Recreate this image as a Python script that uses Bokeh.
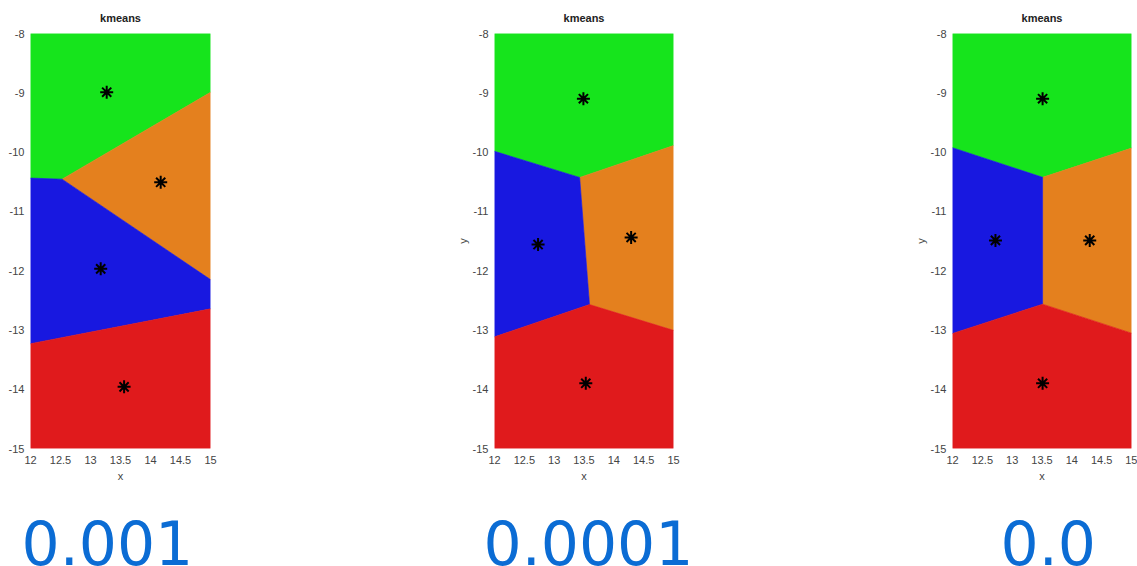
from bokeh.plotting import figure
from bokeh.layouts import row
from bokeh.models import Range1d, FixedTicker, Spacer, Title
from bokeh.embed import file_html
from bokeh.resources import INLINE

# ---- data ----
cluster_colors = ["#16e41c", "#e4801e", "#1818e0", "#e01a1c"]  # green, orange, blue, red
tol_labels = ["0.001", "0.0001", "0.0"]

cx_001 = [13.27, 14.17, 13.17, 13.56]
cy_001 = [-8.99, -10.51, -11.97, -13.96]
cx_0001 = [13.49, 14.29, 12.73, 13.53]
cy_0001 = [-9.10, -11.44, -11.56, -13.90]
cx_0 = [13.51, 14.30, 12.72, 13.51]
cy_0 = [-9.10, -11.49, -11.49, -13.90]

x_ticks = [12, 12.5, 13, 13.5, 14, 14.5, 15]
x_tick_labels = ["12", "12.5", "13", "13.5", "14", "14.5", "15"]
y_ticks = [-15, -14, -13, -12, -11, -10, -9, -8]
y_tick_labels = ["-15", "-14", "-13", "-12", "-11", "-10", "-9", "-8"]
x_lo, x_hi = 12, 15
y_lo, y_hi = -15, -8

FW, FH = 180, 415           # frame size in px
TOP, BOTTOM = 33, 118       # borders


def clip(poly, a, b, c):
    """Keep part of polygon with a*x + b*y <= c."""
    out = []
    n = len(poly)
    for k in range(n):
        p = poly[k]
        q = poly[(k + 1) % n]
        fp = a * p[0] + b * p[1] - c
        fq = a * q[0] + b * q[1] - c
        if fp <= 0:
            out.append(p)
        if (fp < 0 < fq) or (fq < 0 < fp):
            t = fp / (fp - fq)
            out.append((p[0] + t * (q[0] - p[0]), p[1] + t * (q[1] - p[1])))
    return out


def voronoi_cells(cx, cy):
    xs, ys = [], []
    for i in range(len(cx)):
        poly = [(x_lo, y_lo), (x_hi, y_lo), (x_hi, y_hi), (x_lo, y_hi)]
        for j in range(len(cx)):
            if i == j:
                continue
            a = 2 * (cx[j] - cx[i])
            b = 2 * (cy[j] - cy[i])
            c = cx[j] ** 2 + cy[j] ** 2 - cx[i] ** 2 - cy[i] ** 2
            poly = clip(poly, a, b, c)
        xs.append([pt[0] for pt in poly])
        ys.append([pt[1] for pt in poly])
    return xs, ys


def panel(cx, cy, label, border_left, border_right, ylabel, label_dx):
    p = figure(width=border_left + FW + border_right, height=TOP + FH + BOTTOM,
               x_range=Range1d(x_lo, x_hi), y_range=Range1d(y_lo, y_hi),
               output_backend="svg", toolbar_location=None,
               min_border_left=border_left, min_border_right=border_right,
               min_border_top=TOP, min_border_bottom=BOTTOM, title="kmeans")
    p.title.align = "center"
    p.title.text_font = "Liberation Sans"
    p.title.text_font_size = "11px"
    p.title.text_font_style = "bold"
    p.title.text_color = "#222222"
    p.title.standoff = 19
    p.outline_line_color = None
    p.grid.visible = False
    p.background_fill_color = "white"

    xs, ys = voronoi_cells(cx, cy)
    p.patches(xs, ys, fill_color=cluster_colors, line_color=cluster_colors, line_width=0.6)
    p.scatter(cx, cy, marker="asterisk", size=13, line_color="black", line_width=2)

    for ax in (p.xaxis[0], p.yaxis[0]):
        ax.axis_line_color = None
        ax.major_tick_line_color = None
        ax.minor_tick_line_color = None
        ax.major_tick_out = 0
        ax.major_tick_in = 0
        ax.minor_tick_out = 0
        ax.minor_tick_in = 0
        ax.major_label_text_font = "Liberation Sans"
        ax.major_label_text_font_size = "11px"
        ax.major_label_text_color = "#444444"
        ax.axis_label_text_font = "Liberation Sans"
        ax.axis_label_text_font_size = "11px"
        ax.axis_label_text_font_style = "normal"
        ax.axis_label_text_color = "#444444"
    p.xaxis.ticker = FixedTicker(ticks=x_ticks)
    p.xaxis.major_label_overrides = {float(t): s for t, s in zip(x_ticks, x_tick_labels)}
    p.xaxis.major_label_standoff = 7
    p.xaxis.axis_label = "x"
    p.xaxis.axis_label_standoff = 3
    p.yaxis.ticker = FixedTicker(ticks=y_ticks)
    p.yaxis.major_label_overrides = {float(t): s for t, s in zip(y_ticks, y_tick_labels)}
    p.yaxis.major_label_standoff = 6
    if ylabel:
        p.yaxis.axis_label = "y"
        p.yaxis.axis_label_standoff = 1

    # blank spacer panel between the x axis and the big number
    p.add_layout(Title(text=" ", standoff=20, text_font_size="10px"), "below")
    p.add_layout(Title(text=label, align="left", offset=label_dx, standoff=0,
                       text_font="DejaVu Sans", text_font_size="60px",
                       text_font_style="normal", text_color="#0b6cd4"), "below")
    return p


f1 = panel(cx_001, cy_001, tol_labels[0], 30, 7, False, -9)
f2 = panel(cx_0001, cy_0001, tol_labels[1], 40, 24, True, -11)
f3 = panel(cx_0, cy_0, tol_labels[2], 40, 6, True, 48)

layout = row(f1, Spacer(width=236, height=10), f2, Spacer(width=214, height=10), f3)

open("out.html", "w").write(file_html(layout, INLINE))
